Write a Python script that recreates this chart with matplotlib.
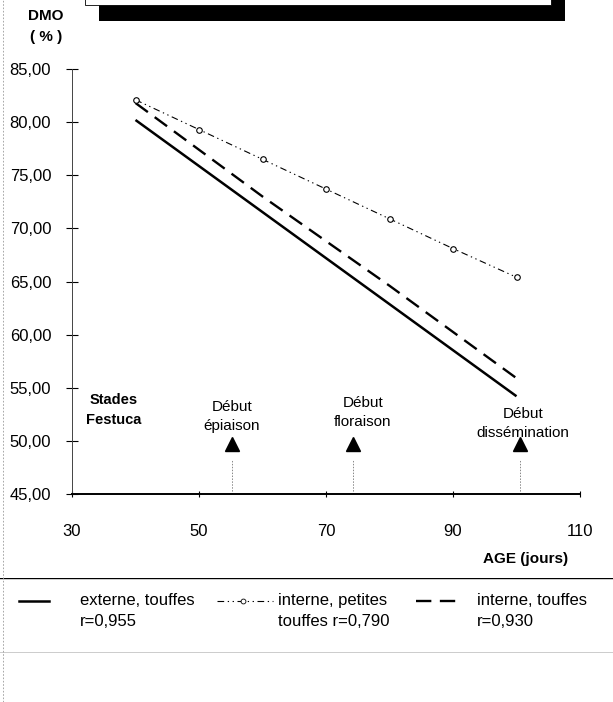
import matplotlib.pyplot as plt
from matplotlib.lines import Line2D
from matplotlib.patches import Rectangle

plt.rcParams['font.family'] = ['Liberation Sans', 'DejaVu Sans']

# data
age_petites = [40, 50, 60, 70, 80, 90, 100]
dmo_petites = [82.1, 79.3, 76.5, 73.7, 70.9, 68.1, 65.4]   # interne, petites touffes
age_externe = [40, 100]
dmo_externe = [80.2, 54.2]                                  # externe, touffes
age_interne = [40, 60, 80, 100]
dmo_interne = [81.8, 73.0, 64.6, 55.9]                      # interne, touffes

stade_age = [55.2, 74.2, 100.5]
stade_labels = ['Début\népiaison', 'Début\nfloraison', 'Début\ndissémination']
stade_text_x = [55.2, 75.8, 101.0]
stade_text_y = [52.25, 52.7, 51.6]

yticks = [45, 50, 55, 60, 65, 70, 75, 80, 85]
xticks = [30, 50, 70, 90, 110]

fig = plt.figure(figsize=(6.13, 7.02), dpi=100)
ax = fig.add_axes([72/613, 1-494/702, 508/613, 425/702])

dash_style = (0, (6.5, 3.6))
dot_style = (0, (6, 3.2, 1.2, 3.2, 1.2, 3.2))

ax.plot(age_externe, dmo_externe, color='black', lw=1.8, solid_capstyle='butt')
ax.plot(age_interne, dmo_interne, color='black', lw=1.7, linestyle=dash_style)
ax.plot(age_petites, dmo_petites, color='black', lw=0.8, linestyle=dot_style,
        marker='o', ms=4, mfc='white', mec='black', mew=0.8)

# stades Festuca
ax.plot(stade_age, [49.7]*3, linestyle='none', marker='^', ms=10, color='black')
ax.vlines(stade_age, 45, 48.2, colors='#888888', lw=0.7, linestyles=(0, (1.5, 1.5)))
for x, y, s in zip(stade_text_x, stade_text_y, stade_labels):
    ax.text(x, y, s, ha='center', va='center', fontsize=11, linespacing=1.45)
ax.text(36.5, 52.95, 'Stades\nFestuca', ha='center', va='center', fontsize=10.5,
        fontweight='bold', linespacing=1.55)

ax.set_xlim(30, 110)
ax.set_ylim(45, 85)
ax.set_yticks(yticks)
ax.set_yticklabels([f'{v:.2f}'.replace('.', ',') for v in yticks])
ax.set_xticks(xticks)
ax.set_xticklabels([str(v) for v in xticks])
ax.tick_params(axis='y', direction='inout', length=8, width=0.8, pad=11, labelsize=12)
ax.tick_params(axis='x', direction='inout', length=5, width=0.8, pad=19, labelsize=12)

for s in ['top', 'right']:
    ax.spines[s].set_visible(False)
ax.spines['left'].set_linewidth(0.7)
ax.spines['left'].set_linestyle((0, (2, 1)))
ax.spines['left'].set_color('#444444')
ax.spines['bottom'].set_linewidth(1.4)

fig.text(46/613, 1-16/702, 'DMO', ha='center', va='center', fontsize=11, fontweight='bold')
fig.text(46/613, 1-37/702, '( % )', ha='center', va='center', fontsize=11, fontweight='bold')
fig.text(526/613, 1-559.5/702, 'AGE (jours)', ha='center', va='center', fontsize=11,
         fontweight='bold')

# title box (blacked out in the scan)
fig.add_artist(Rectangle((99/613, 1-21/702), 466/613, 30/702, transform=fig.transFigure,
                         facecolor='black', edgecolor='none'))
fig.add_artist(Rectangle((85/613, 1-5/702), 466/613, 30/702, transform=fig.transFigure,
                         facecolor='white', edgecolor='black', lw=0.6))

# legend box
lg = fig.add_axes([0, 1-653/702, 1, 75/702])
lg.set_xlim(0, 613)
lg.set_ylim(653, 578)
lg.axis('off')
lg.axhline(578, color='black', lw=1.0)
lg.axhline(653, color='black', lw=1.0)
lg.plot([19, 49], [601, 601], color='black', lw=1.8)
lg.plot([217, 273], [601, 601], color='black', lw=0.8, linestyle=dot_style)
lg.plot([243], [601], marker='o', ms=3.5, mfc='white', mec='black', mew=0.6)
lg.plot([416, 463], [601, 601], color='black', lw=1.7, linestyle=(0, (6.5, 3.6)))
legend_texts = [(80, 'externe, touffes\nr=0,955'),
                (278, 'interne, petites\ntouffes r=0,790'),
                (477, 'interne, touffes\nr=0,930')]
for x, s in legend_texts:
    lg.text(x, 593, s, ha='left', va='top', fontsize=12, linespacing=1.5)

# scan border
fig.add_artist(Line2D([3/613, 3/613], [0, 1], transform=fig.transFigure,
                      color='#999999', lw=0.6, linestyle=(0, (2, 2))))

fig.savefig('out.png', dpi=100)
